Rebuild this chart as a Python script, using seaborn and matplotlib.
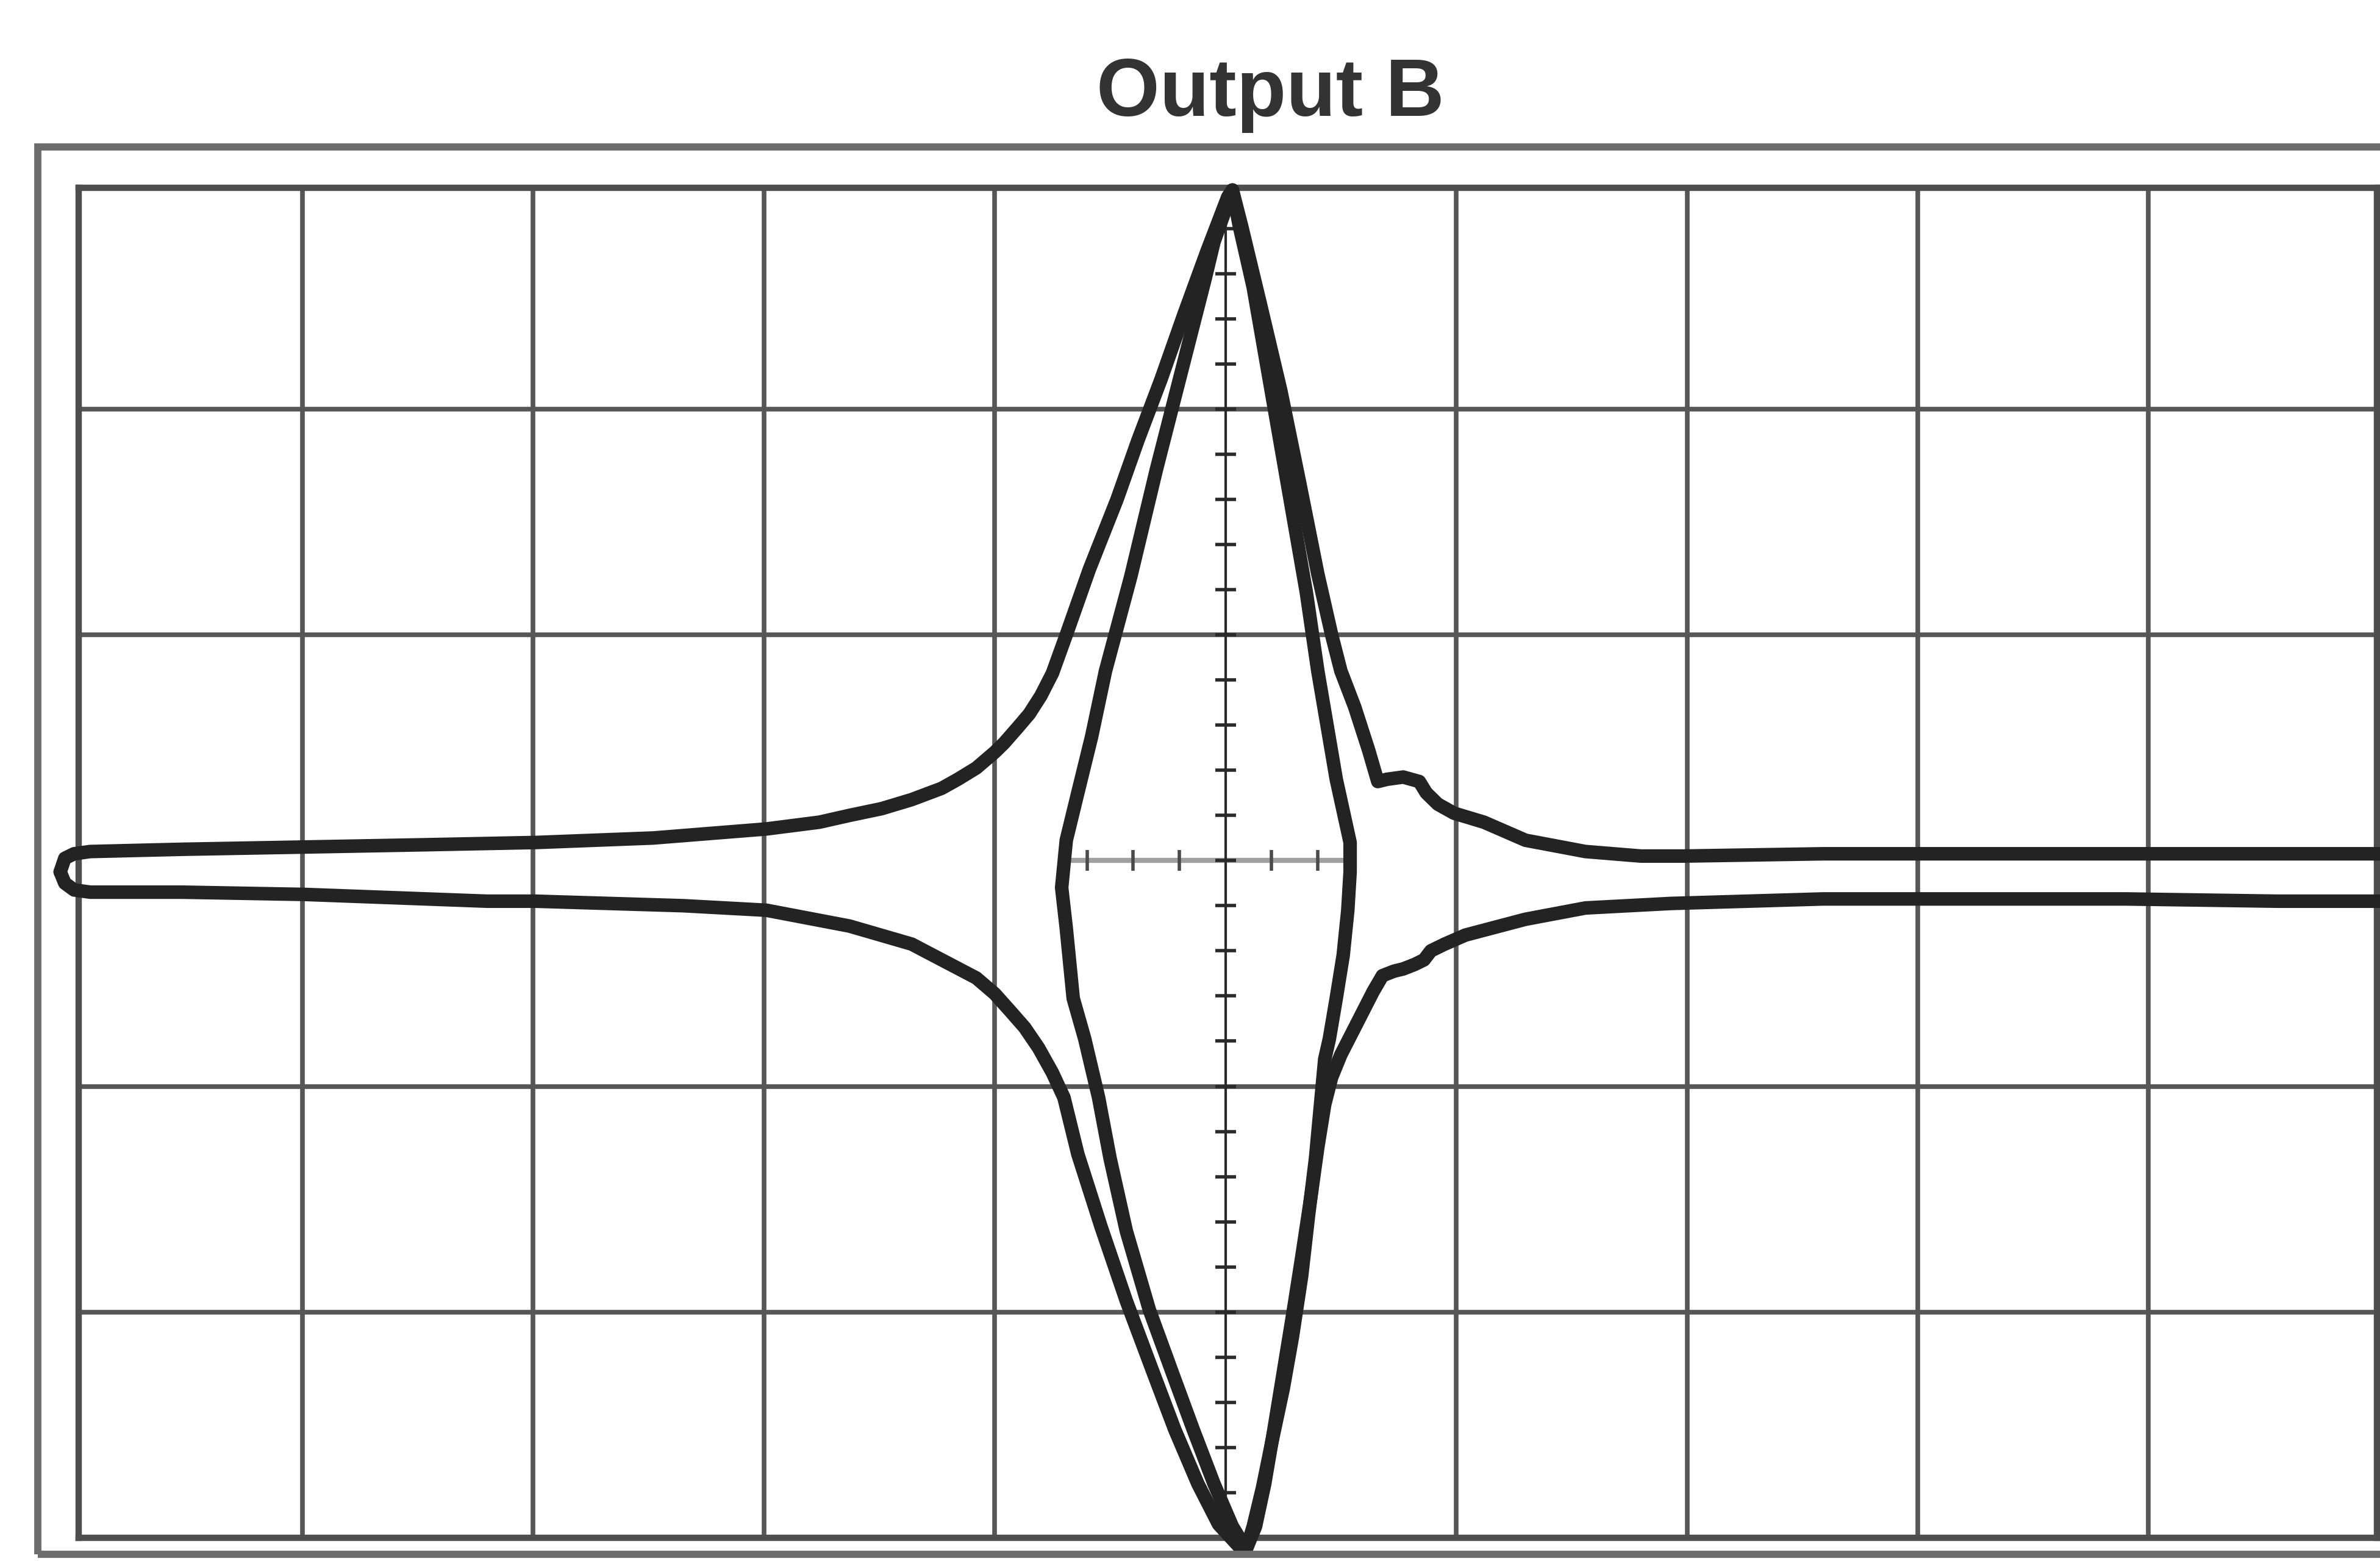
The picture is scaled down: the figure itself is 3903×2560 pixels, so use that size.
import numpy as np
import pandas as pd
import matplotlib
matplotlib.use("Agg")
import matplotlib.pyplot as plt
from matplotlib.patches import Rectangle
import seaborn as sns

# ---------------- data (screen divisions, centre of graticule = 0,0) ----------------
title = "Output B"

upper_x = [-5.05, -5.03, -4.99, -4.92, -4.52, -3.99, -3.47, -2.99, -2.48, -1.99, -1.76, -1.63,
           -1.49, -1.36, -1.23, -1.16, -1.08, -1.00, -0.96, -0.90, -0.85, -0.80, -0.75, -0.69,
           -0.59, -0.47, -0.38, -0.28, -0.18, -0.08, 0.01, 0.03, 0.07, 0.15, 0.24, 0.32, 0.40,
           0.46, 0.50, 0.56, 0.62, 0.66, 0.70, 0.77, 0.84, 0.87, 0.92, 0.99, 1.12, 1.30, 1.56,
           1.80, 1.99, 2.59, 3.24, 3.90, 4.56, 5.03]
upper_y = [-0.05, 0.01, 0.03, 0.04, 0.05, 0.06, 0.07, 0.08, 0.10, 0.14, 0.17, 0.20,
           0.23, 0.27, 0.32, 0.36, 0.41, 0.48, 0.52, 0.59, 0.65, 0.73, 0.83, 1.00,
           1.29, 1.60, 1.86, 2.13, 2.42, 2.70, 2.94, 2.97, 2.81, 2.47, 2.08, 1.68, 1.27,
           1.00, 0.84, 0.68, 0.49, 0.35, 0.36, 0.37, 0.35, 0.30, 0.25, 0.21, 0.17, 0.09, 0.04,
           0.02, 0.02, 0.03, 0.03, 0.03, 0.03, 0.03]

lower_x = [-5.05, -5.03, -4.99, -4.92, -4.52, -3.99, -3.20, -2.99, -2.35, -1.99, -1.63, -1.36,
           -1.08, -1.00, -0.93, -0.87, -0.81, -0.75, -0.70, -0.64, -0.54, -0.43, -0.32, -0.22,
           -0.12, -0.03, 0.06, 0.09, 0.13, 0.17, 0.21, 0.25, 0.29, 0.33, 0.37, 0.40, 0.43, 0.46,
           0.50, 0.55, 0.60, 0.64, 0.68, 0.73, 0.77, 0.82, 0.86, 0.89, 0.95, 1.04, 1.30, 1.56,
           1.93, 2.59, 3.24, 3.90, 4.56, 5.03]
lower_y = [-0.05, -0.10, -0.13, -0.14, -0.14, -0.15, -0.18, -0.18, -0.20, -0.22, -0.29, -0.37,
           -0.52, -0.59, -0.67, -0.74, -0.83, -0.94, -1.05, -1.30, -1.62, -1.95, -2.25, -2.52,
           -2.76, -2.94, -3.04, -3.05, -2.95, -2.76, -2.52, -2.27, -2.02, -1.76, -1.49, -1.27,
           -1.08, -0.96, -0.86, -0.76, -0.66, -0.58, -0.51, -0.49, -0.48, -0.46, -0.44, -0.40,
           -0.37, -0.33, -0.26, -0.21, -0.19, -0.17, -0.17, -0.17, -0.18, -0.18]

inner_left_x = [0.03, -0.05, -0.09, -0.19, -0.30, -0.41, -0.52, -0.58, -0.64, -0.69, -0.71, -0.69,
                -0.66, -0.61, -0.55, -0.50, -0.43, -0.33, -0.23, -0.14, -0.05, 0.03, 0.09]
inner_left_y = [2.97, 2.74, 2.57, 2.17, 1.73, 1.26, 0.84, 0.55, 0.30, 0.09, -0.12, -0.30,
                -0.61, -0.79, -1.05, -1.32, -1.64, -1.99, -2.27, -2.52, -2.76, -2.95, -3.05]

inner_right_x = [0.03, 0.06, 0.12, 0.20, 0.28, 0.35, 0.40, 0.44, 0.48, 0.51, 0.54, 0.54, 0.53,
                 0.51, 0.48, 0.45, 0.43, 0.41, 0.39, 0.36, 0.33, 0.29, 0.25, 0.20, 0.16, 0.12, 0.09]
inner_right_y = [2.97, 2.81, 2.54, 2.07, 1.60, 1.19, 0.84, 0.60, 0.36, 0.22, 0.08, -0.05, -0.22,
                 -0.42, -0.61, -0.79, -0.88, -1.10, -1.32, -1.57, -1.84, -2.11, -2.34, -2.58,
                 -2.78, -2.95, -3.05]

grid_x = [-4, -3, -2, -1, 1, 2, 3, 4]
grid_y = [-2, -1, 1, 2]
centre_h_segment = [-0.70, 0.54]
centre_h_ticks = [-0.6, -0.4, -0.2, 0.2, 0.4]

# ---------------- figure ----------------
sns.set_style("white")
plt.rcParams['font.family'] = ['Liberation Sans', 'DejaVu Sans']

W, H = 3903, 2560
fig = plt.figure(figsize=(W / 100, H / 100), dpi=100)
fig.patch.set_facecolor("white")
ax = fig.add_axes([129 / W, (H - 2522) / H, (3898 - 129) / W, (2522 - 308) / H])
ax.set_facecolor("white")

# graticule
for gx in grid_x:
    ax.axvline(gx, color="#565656", lw=5.5, zorder=1)
for gy in grid_y:
    ax.axhline(gy, color="#565656", lw=5.5, zorder=1)

# centre vertical line with minor ticks
ax.axvline(0, color="#2a2a2a", lw=3, zorder=2)
vt = np.round(np.arange(-2.8, 2.81, 0.2), 2)
ax.plot(np.zeros_like(vt), vt, ls="none", marker="_", ms=24, mew=4,
        color="#2a2a2a", zorder=2)

# centre horizontal segment (visible inside the diamond) with ticks
ax.plot(centre_h_segment, [0, 0], color="#a0a0a0", lw=6, zorder=1.5)
ax.plot(centre_h_ticks, [0] * len(centre_h_ticks), ls="none", marker="|", ms=24, mew=4,
        color="#4a4a4a", zorder=2)

# traces
frames = []
for name, xs, ys in [("upper", upper_x, upper_y), ("lower", lower_x, lower_y),
                     ("inner_left", inner_left_x, inner_left_y),
                     ("inner_right", inner_right_x, inner_right_y)]:
    frames.append(pd.DataFrame({"x": xs, "y": ys, "trace": name}))
df = pd.concat(frames, ignore_index=True)

n_before = len(ax.lines)
sns.lineplot(data=df, x="x", y="y", units="trace", estimator=None, sort=False,
             color="#232323", ax=ax, legend=False, zorder=3)
for ln in ax.lines[n_before:]:
    ln.set_linewidth(16)
    ln.set_color("#232323")
    ln.set_clip_on(False)
    ln.set_solid_joinstyle("round")
    ln.set_solid_capstyle("round")

ax.set_xlim(-4.97, 4.99)
ax.set_ylim(-3.0, 2.98)
ax.set_xticks([])
ax.set_yticks([])
ax.set_xlabel("")
ax.set_ylabel("")
for s in ax.spines.values():
    s.set_visible(True)
    s.set_linewidth(7.5)
    s.set_color("#4e4e4e")

# outer bezel frame (runs off the right edge)
fig.add_artist(Rectangle((62 / W, (H - 2549) / H), (W + 60 - 62) / W, (2549 - 241) / H,
                         transform=fig.transFigure, fill=False, ec="#6c6c6c", lw=8.5,
                         clip_on=False))

fig.text(2083 / W, 1 - 190 / H, title, ha="center", va="baseline", fontsize=96,
         fontweight="bold", color="#333333")

fig.savefig("out.png", dpi=100, facecolor="white")
